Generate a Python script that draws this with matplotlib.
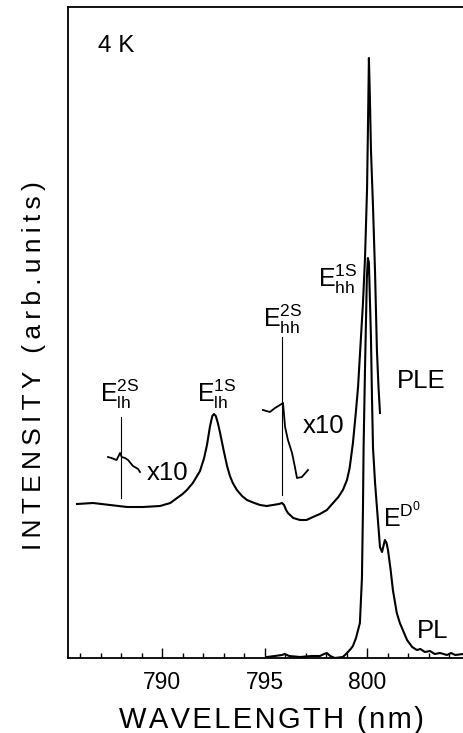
import matplotlib
matplotlib.use("Agg")
import matplotlib.pyplot as plt
from matplotlib.ticker import MultipleLocator

plt.rcParams["font.family"] = ["Liberation Sans", "DejaVu Sans", "Noto Sans CJK JP"]
plt.rcParams["mathtext.fontset"] = "custom"
plt.rcParams["mathtext.rm"] = "Liberation Sans"
plt.rcParams["mathtext.it"] = "Liberation Sans"

# PLE spectrum (wavelength nm, intensity arb.)
ple_wl = [785.85, 786.63, 787.46, 788.29, 789.07, 789.90, 790.40, 790.73, 791.00, 791.21,
          791.50, 791.85, 792.05, 792.19, 792.34, 792.45, 792.53, 792.62, 792.72, 792.82,
          793.00, 793.17, 793.31, 793.45, 793.65, 793.90, 794.14, 794.50, 794.78, 795.10,
          795.41, 795.70, 795.85, 795.95, 796.05, 796.14, 796.40, 796.73, 797.05, 797.36,
          797.70, 798.04, 798.34, 798.60, 798.82, 799.02, 799.15, 799.31, 799.45, 799.56,
          799.70, 799.80, 799.90, 800.00, 800.05, 800.09, 800.14, 800.19, 800.29, 800.39,
          800.48, 800.56, 800.63]
ple_int = [154, 155, 153, 151, 151, 152, 155, 160, 164, 168,
           175, 187, 200, 213, 232, 242, 244, 242, 235, 226,
           208, 192, 182, 175, 168, 162, 158, 155, 153, 152,
           153, 154, 155, 153, 148, 145, 140, 138, 138, 141,
           144, 148, 155, 161, 168, 178, 190, 215, 245, 271,
           320, 355, 400, 470, 540, 600, 558, 508, 451, 385,
           308, 270, 245]

# PL spectrum
pl_wl = [795.12, 795.50, 795.85, 795.99, 796.20, 796.73, 797.30, 797.70, 797.90, 798.04,
         798.20, 798.43, 798.82, 799.02, 799.20, 799.31, 799.46, 799.65, 799.75, 799.80,
         799.83, 799.90, 799.99, 800.04, 800.09, 800.19, 800.24, 800.29, 800.39, 800.48,
         800.63, 800.73, 800.87, 800.95, 801.02, 801.15, 801.26, 801.45, 801.60, 801.95,
         802.20, 802.43, 802.60, 802.82, 803.07, 803.30, 803.56, 803.90, 804.10, 804.30,
         804.68]
pl_int = [1, 2, 3, 4, 2, 1, 2, 2, 4, 5,
          2, 0, 1, 5, 9, 12, 20, 35, 80, 150,
          210, 290, 380, 400, 395, 320, 260, 210, 175, 151,
          111, 106, 118, 115, 108, 88, 68, 45, 35, 18,
          11, 8, 9, 6, 7, 4, 5, 3, 5, 3,
          4]

# x10 magnified traces
lh_x10_wl = [787.36, 787.53, 787.78, 787.95, 788.03, 788.19, 788.34, 788.58, 788.83, 788.92]
lh_x10_int = [201, 200, 198, 205, 201, 200, 198, 192, 189, 186]
hh_x10_wl = [794.92, 795.26, 795.51, 795.75, 795.90, 796.00, 796.14, 796.34, 796.48, 796.58, 796.82, 797.12]
hh_x10_int = [248, 246, 250, 253, 255, 231, 218, 205, 191, 180, 181, 188]

# marker lines (wavelength, bottom, top)
lh2s_line = (788.0, 160, 241)
hh2s_line = (795.85, 163, 321)


def spaced(s, sep):
    # wide letter spacing like the printed figure
    return sep.join(s)


fig = plt.figure(figsize=(4.63, 7.33), dpi=100)
ax = fig.add_axes([68 / 463, 75 / 733, 1 - 68 / 463, 651 / 733])

ax.plot(ple_wl, ple_int, color="black", lw=1.5)
ax.plot(pl_wl, pl_int, color="black", lw=1.5)
ax.plot(lh_x10_wl, lh_x10_int, color="black", lw=1.3)
ax.plot(hh_x10_wl, hh_x10_int, color="black", lw=1.3)
for wl, lo, hi in [lh2s_line, hh2s_line]:
    ax.plot([wl, wl], [lo, hi], color="black", lw=0.8)

ax.set_xlim(785.41, 804.68)
ax.set_ylim(0, 651)

ax.xaxis.set_major_locator(MultipleLocator(5))
ax.xaxis.set_minor_locator(MultipleLocator(1))
ax.tick_params(axis="x", which="major", direction="in", length=7, width=1, pad=9.5, labelsize=16.5)
ax.tick_params(axis="x", which="minor", direction="in", length=3.5, width=1)
ax.set_yticks([])
ax.spines["right"].set_visible(False)
for s in ["left", "bottom", "top"]:
    ax.spines[s].set_linewidth(1.3)

ax.set_xlabel(spaced("WAVELENGTH (nm)", "\u200a"), fontsize=21)
ax.xaxis.set_label_coords(0.514, -0.073)
ax.set_ylabel(spaced("INTENSITY (arb.units)", "\u2009"), fontsize=19)
ax.yaxis.set_label_coords(-0.056, 0.449)

ax.text(786.87, 606, "4 K", fontsize=17.5, va="baseline")
ax.text(801.46, 270, "PLE", fontsize=18.5, va="baseline")
ax.text(802.43, 20, "PL", fontsize=18.5, va="baseline")
ax.text(789.26, 178, "x10", fontsize=18.5, va="baseline")
ax.text(796.87, 225, "x10", fontsize=18.5, va="baseline")

ax.text(786.97, 256, r"$\mathrm{E}_{\mathrm{lh}}^{\mathrm{2S}}$", fontsize=18, va="baseline")
ax.text(791.70, 256, r"$\mathrm{E}_{\mathrm{lh}}^{\mathrm{1S}}$", fontsize=18, va="baseline")
ax.text(794.92, 331, r"$\mathrm{E}_{\mathrm{hh}}^{\mathrm{2S}}$", fontsize=18, va="baseline")
ax.text(797.61, 371, r"$\mathrm{E}_{\mathrm{hh}}^{\mathrm{1S}}$", fontsize=18, va="baseline")
ax.text(800.78, 131, r"$\mathrm{E}^{\mathrm{D}^{0}}$", fontsize=18, va="baseline")

fig.savefig("out.png", dpi=100)
